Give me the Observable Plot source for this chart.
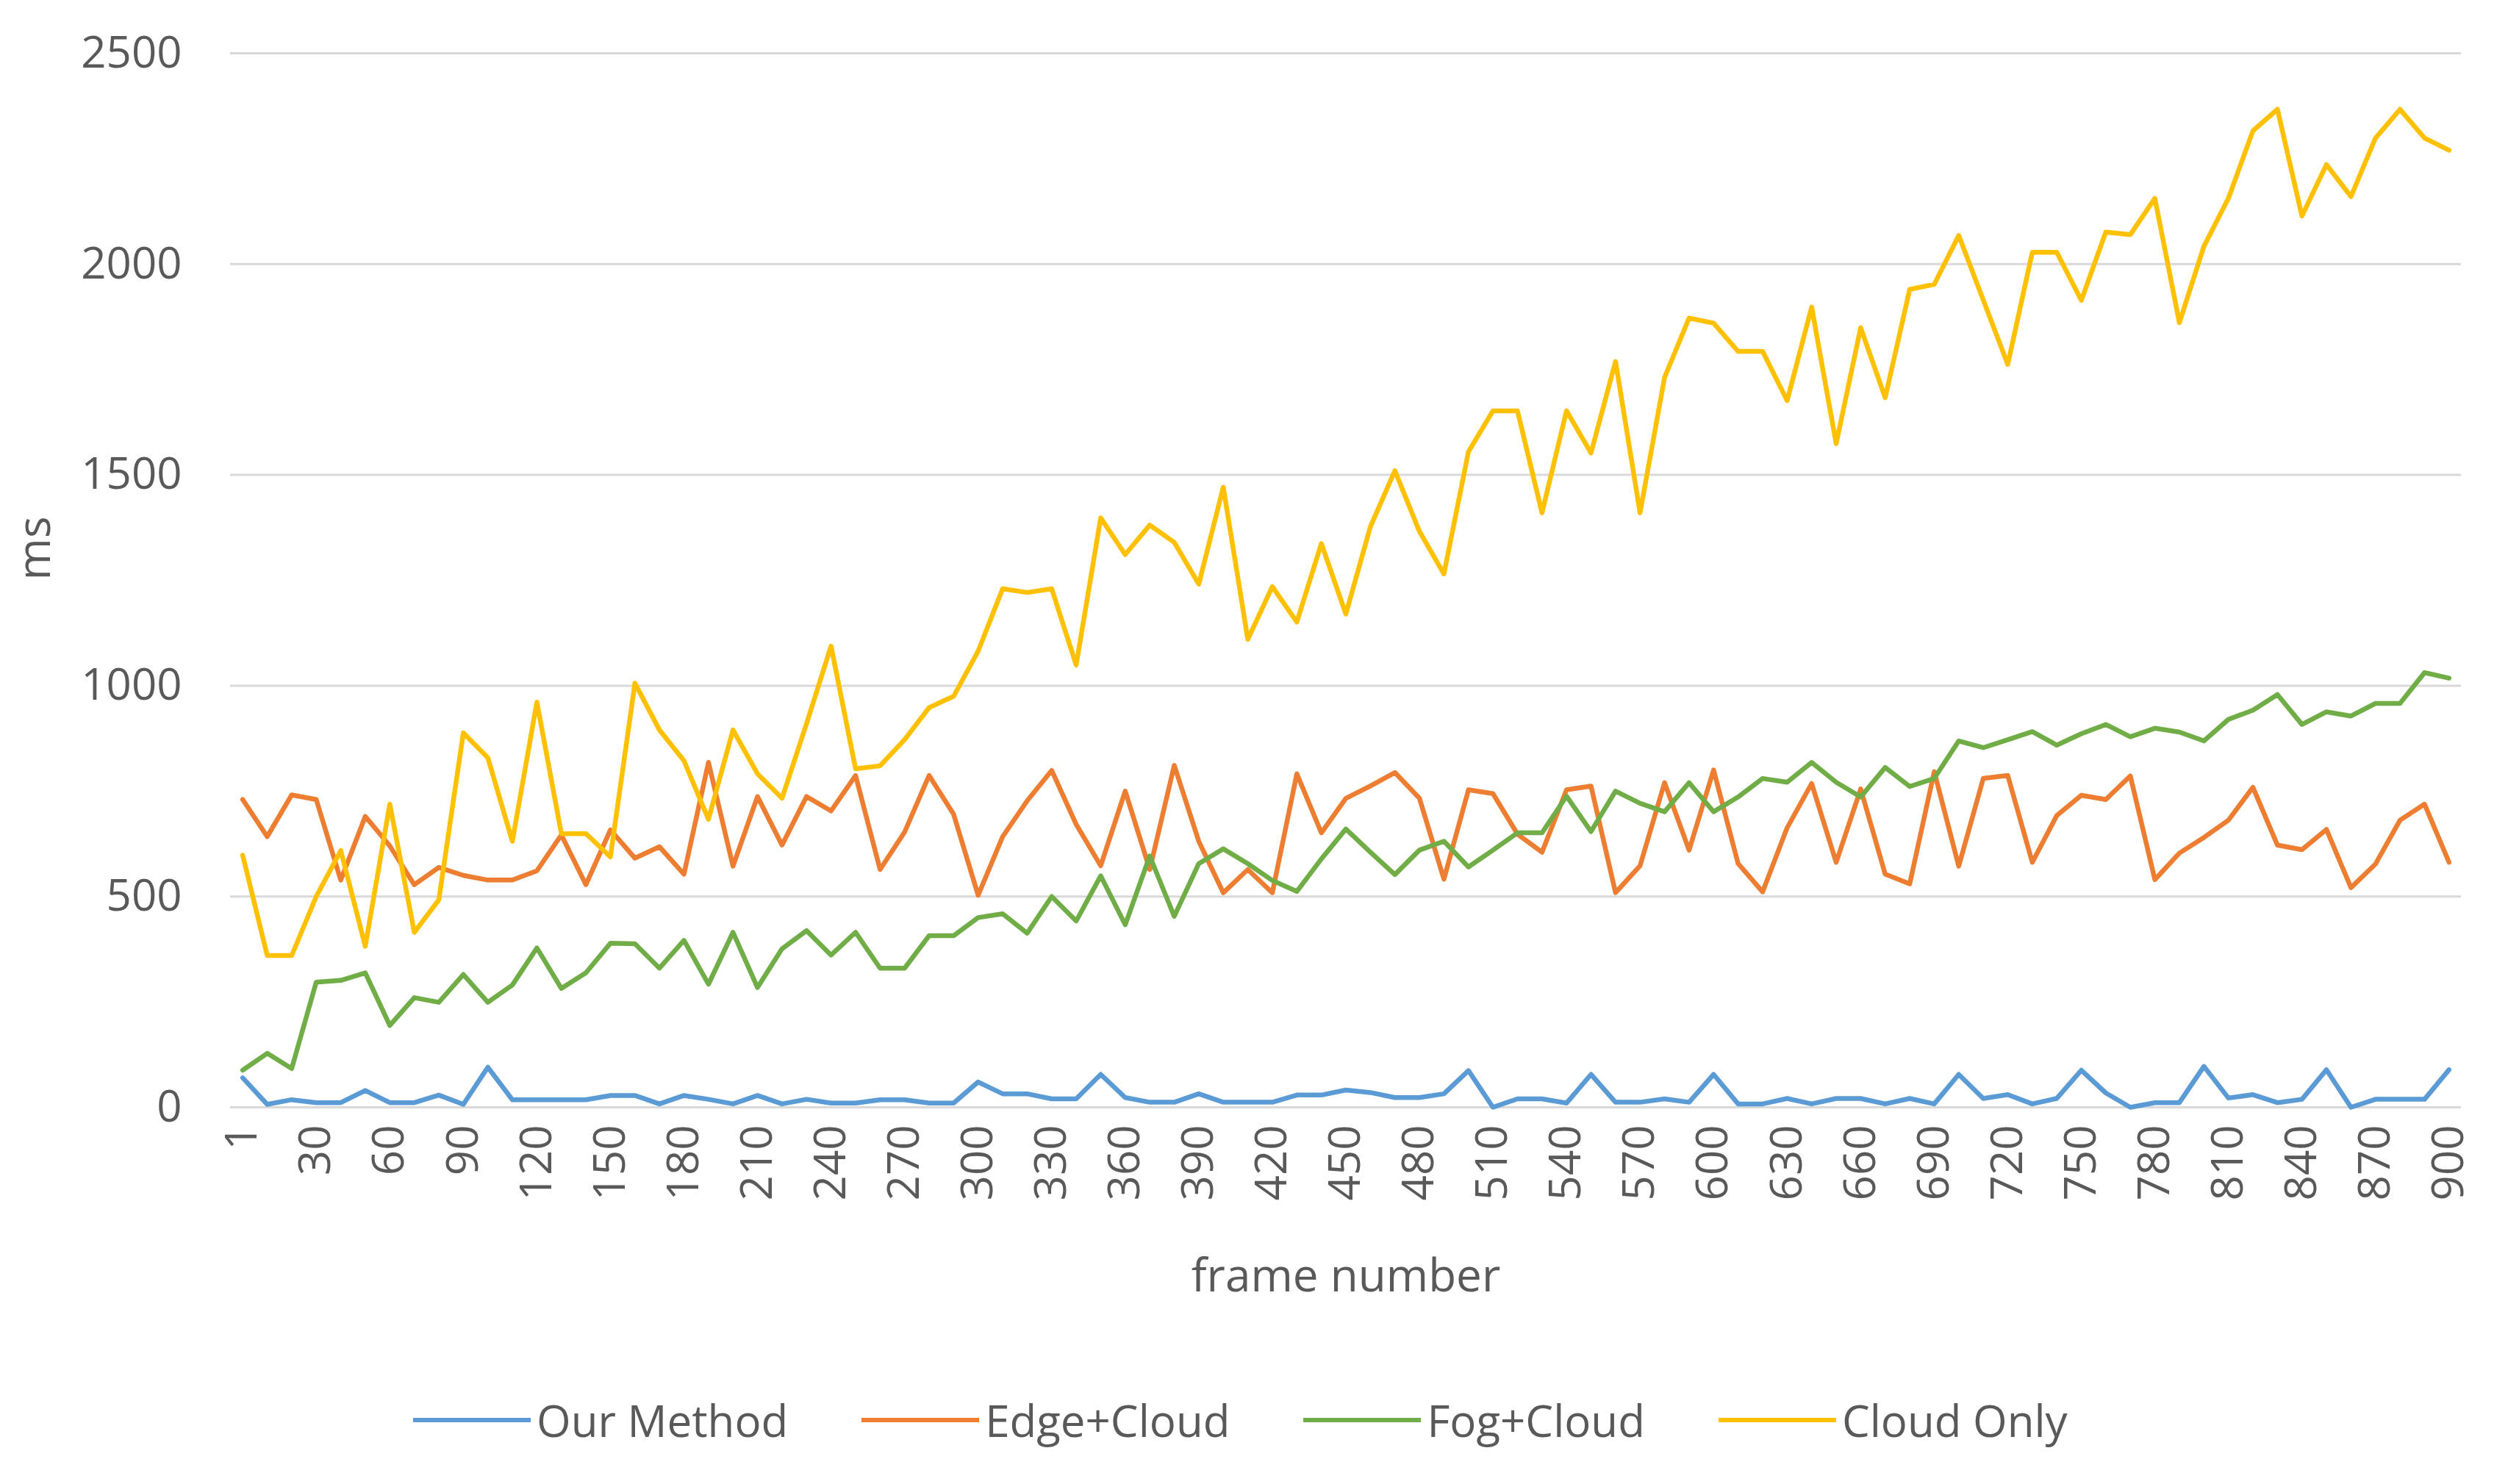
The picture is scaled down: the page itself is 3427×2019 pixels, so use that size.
<!DOCTYPE html>
<html>
<head>
<meta charset="utf-8">
<script src="https://cdn.jsdelivr.net/npm/d3@7"></script>
<script src="https://cdn.jsdelivr.net/npm/@observablehq/plot@0.6"></script>
<style>
  html, body { margin: 0; padding: 0; background: #fff; }
  body { width: 3427px; height: 2019px; overflow: hidden; font-family: "Open Sans", sans-serif; color: #595959; }
  #legend { display: flex; align-items: center; margin-left: 562px; margin-top: 100px; height: 64px; font-size: 60px; }
  .item { display: flex; align-items: center; margin-right: 100px; }
  .sw { width: 160px; height: 6px; margin-right: 8px; }
</style>
</head>
<body>
<div id="chart"></div>
<div id="legend"></div>
<script>
const frames = [1].concat(d3.range(1, 91).map(i => i * 10));
const seriesNames = ["Our Method", "Edge+Cloud", "Fog+Cloud", "Cloud Only"];
const seriesColors = ["#5B9BD5", "#ED7D31", "#70AD47", "#FFC000"];
const yTicks = [0, 500, 1000, 1500, 2000, 2500];

const ourMethod = [70,7,18,11,11,40,11,11,29,7,95,18,18,18,18,28,28,8,28,19,8,28,8,19,10,10,18,18,10,10,
  60,32,32,20,20,78,23,12,12,32,12,12,12,29,29,41,35,23,23,32,87,0,20,20,10,78,12,12,20,12,
  78,8,8,21,8,21,21,8,21,8,78,21,30,8,21,88,34,0,11,11,97,22,30,11,19,89,0,19,19,19,89];
const edgeCloud = [730,642,741,730,539,690,620,528,569,550,539,539,561,646,528,658,591,618,553,818,572,737,622,737,703,787,564,653,787,695,
  503,642,727,799,671,573,750,564,811,631,509,564,509,791,651,733,762,794,733,541,753,744,648,605,753,762,509,573,770,610,
  800,578,511,663,768,581,755,553,530,796,572,780,787,581,692,740,730,786,540,603,640,681,759,622,611,659,521,577,681,719,581];
const fogCloud = [88,128,92,297,301,319,194,260,249,315,249,290,378,282,319,389,388,330,396,292,415,284,376,419,361,415,330,330,407,407,
  450,459,413,500,442,549,433,596,453,578,613,578,538,512,589,660,605,552,610,631,570,610,651,651,738,654,750,721,701,770,
  701,736,780,771,818,771,736,806,761,780,869,853,872,891,859,886,908,879,899,890,869,920,942,979,908,938,928,958,958,1031,1018];
const cloudOnly = [598,360,360,500,609,382,719,415,492,888,829,631,961,649,649,594,1006,895,822,683,895,791,733,910,1094,803,810,872,948,975,
  1082,1230,1221,1230,1049,1398,1311,1381,1340,1241,1471,1110,1235,1151,1337,1170,1377,1510,1366,1265,1555,1652,1652,1410,1652,1552,1769,1410,1731,1872,
  1860,1793,1793,1676,1898,1574,1849,1683,1940,1952,2068,1915,1762,2028,2028,1914,2076,2070,2156,1861,2042,2156,2316,2367,2114,2236,2160,2299,2367,2299,2270];

const seriesValues = [ourMethod, edgeCloud, fogCloud, cloudOnly];
const data = [];
seriesNames.forEach((name, s) => {
  frames.forEach((f, i) => data.push({series: name, frame: f, value: seriesValues[s][i]}));
});
const xTicks = frames.filter((f, i) => i % 3 === 0);

const chart = Plot.plot({
  width: 3427,
  height: 1800,
  marginLeft: 313,
  marginRight: 79,
  marginTop: 72,
  marginBottom: 294,
  style: {fontFamily: "Open Sans, sans-serif", fontSize: "60px", color: "#595959", background: "#fff"},
  x: {type: "point", domain: frames, padding: 0.5},
  y: {domain: [0, 2500]},
  color: {domain: seriesNames, range: seriesColors},
  marks: [
    Plot.gridY(yTicks, {stroke: "#d9d9d9", strokeOpacity: 1, strokeWidth: 3}),
    Plot.axisY({ticks: yTicks, tickFormat: d => String(d), tickSize: 0, tickPadding: 66, label: null}),
    Plot.axisX({ticks: xTicks, tickFormat: d => String(d), tickSize: 0, tickPadding: 24, tickRotate: -90, label: null}),
    Plot.line(data, {x: "frame", y: "value", z: "series", stroke: "series", strokeWidth: 6.5, strokeLinejoin: "round", strokeLinecap: "round"}),
    Plot.text(["frame number"], {text: d => d, frameAnchor: "bottom", dy: 250, fontSize: 62, fill: "#595959"}),
    Plot.text(["ms"], {text: d => d, frameAnchor: "left", dx: -265, rotate: -90, fontSize: 62, fill: "#595959"})
  ]
});
document.getElementById("chart").appendChild(chart);

const legend = document.getElementById("legend");
seriesNames.forEach((name, i) => {
  const item = document.createElement("div");
  item.className = "item";
  const sw = document.createElement("div");
  sw.className = "sw";
  sw.style.background = seriesColors[i];
  const t = document.createElement("span");
  t.textContent = name;
  item.appendChild(sw);
  item.appendChild(t);
  legend.appendChild(item);
});
</script>
</body>
</html>
